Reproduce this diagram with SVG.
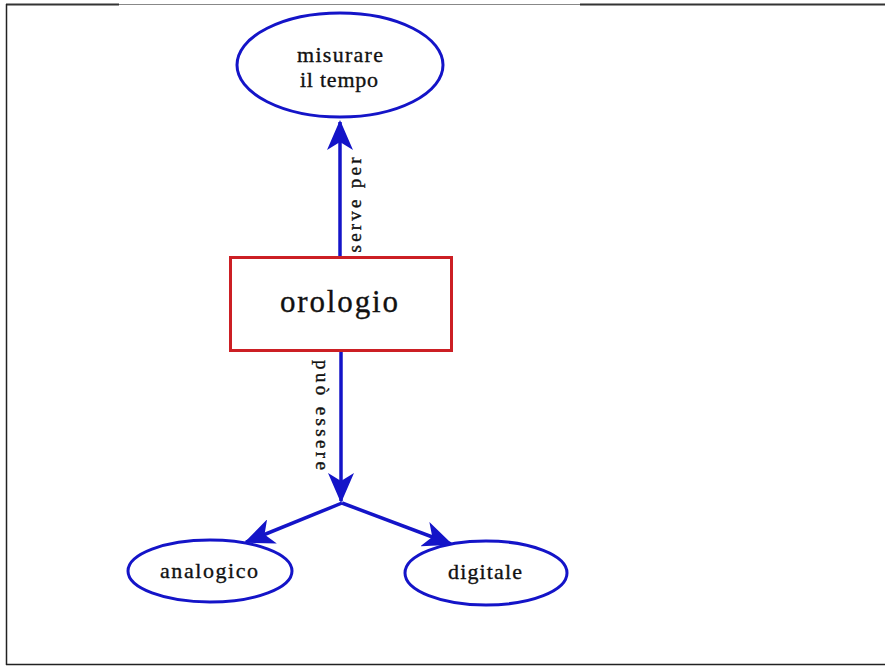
<svg xmlns="http://www.w3.org/2000/svg" width="885" height="667" viewBox="0 0 885 667">
  <style>
    .ell { fill: #ffffff; stroke: #1414c8; stroke-width: 3; }
    .box { fill: #ffffff; stroke: #cc1f24; stroke-width: 3; }
    .lbl { font-family: "Liberation Serif", "Times New Roman", serif; fill: #111111; stroke: #111111; stroke-width: 0.35; }
    .node { font-size: 22px; text-anchor: middle; }
    .edge { font-size: 19px; text-anchor: middle; }
    .conn { stroke: #1414c8; stroke-width: 3.5; fill: none; }
  </style>
  <defs>
    <marker id="arrow" viewBox="0 0 30 26" refX="28" refY="13" markerWidth="30" markerHeight="26" markerUnits="userSpaceOnUse" orient="auto">
      <path d="M0,0 L30,13 L0,26 L8,13 Z" fill="#1414c8"/>
    </marker>
  </defs>

  <rect x="0" y="0" width="885" height="667" fill="#ffffff"/>

  <!-- frame -->
  <g id="frame" fill="none">
    <line x1="6" y1="4.5" x2="119" y2="4.5" stroke="#333333" stroke-width="2"/>
    <line x1="119" y1="4.5" x2="580" y2="4.5" stroke="#888888" stroke-width="1.2"/>
    <line x1="580" y1="4.5" x2="885" y2="4.5" stroke="#333333" stroke-width="2"/>
    <line x1="6.5" y1="4" x2="6.5" y2="665" stroke="#222222" stroke-width="1.5"/>
    <line x1="6" y1="664.5" x2="885" y2="664.5" stroke="#222222" stroke-width="1.5"/>
  </g>

  <!-- connectors -->
  <g id="connectors">
    <line class="conn" x1="340" y1="257" x2="340" y2="122" marker-end="url(#arrow)"/>
    <line class="conn" x1="341" y1="351" x2="341" y2="501" marker-end="url(#arrow)"/>
    <line class="conn" x1="342" y1="503" x2="246" y2="542" marker-end="url(#arrow)"/>
    <line class="conn" x1="342" y1="503" x2="451" y2="544" marker-end="url(#arrow)"/>
    <text class="lbl edge" transform="translate(361,205) rotate(-90)" textLength="95" lengthAdjust="spacing">serve per</text>
    <text class="lbl edge" transform="translate(316,415) rotate(90)" textLength="110" lengthAdjust="spacing">può essere</text>
  </g>

  <!-- nodes -->
  <g id="node-misurare">
    <ellipse class="ell" cx="340" cy="65" rx="103" ry="52"/>
    <text class="lbl node" x="340" y="62" textLength="86" lengthAdjust="spacing">misurare</text>
    <text class="lbl node" x="339" y="87" textLength="78" lengthAdjust="spacing">il tempo</text>
  </g>

  <g id="node-orologio">
    <rect class="box" x="230.5" y="257.5" width="221" height="93"/>
    <text class="lbl" x="339" y="312" font-size="31" text-anchor="middle" textLength="118" lengthAdjust="spacing">orologio</text>
  </g>

  <g id="node-analogico">
    <ellipse class="ell" cx="210" cy="571" rx="82" ry="31"/>
    <text class="lbl node" x="209" y="578" textLength="98" lengthAdjust="spacing">analogico</text>
  </g>

  <g id="node-digitale">
    <ellipse class="ell" cx="486" cy="573" rx="81" ry="32"/>
    <text class="lbl node" x="485" y="579" textLength="74" lengthAdjust="spacing">digitale</text>
  </g>
</svg>
